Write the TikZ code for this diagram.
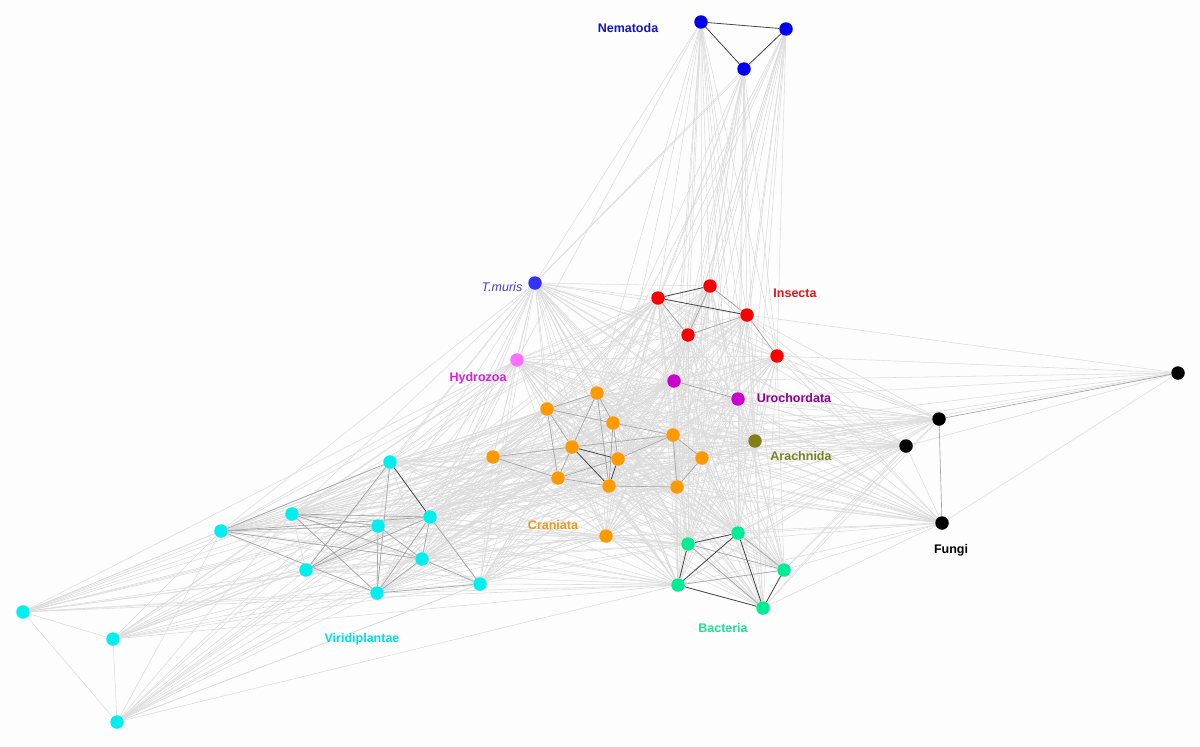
\documentclass[tikz,border=0pt]{standalone}
\usepackage{fontspec}
\setmainfont{Liberation Sans}
\usetikzlibrary{backgrounds}
\definecolor{bgc}{RGB}{252,253,252}
\definecolor{nemc}{RGB}{0,0,240}
\definecolor{nemt}{RGB}{20,20,200}
\definecolor{tmc}{RGB}{50,50,250}
\definecolor{tmt}{RGB}{60,60,230}
\definecolor{insc}{RGB}{250,0,0}
\definecolor{inst}{RGB}{230,20,20}
\definecolor{hyc}{RGB}{255,110,255}
\definecolor{hyt}{RGB}{220,30,220}
\definecolor{uroc}{RGB}{204,0,204}
\definecolor{urot}{RGB}{140,0,150}
\definecolor{arac}{RGB}{128,128,20}
\definecolor{arat}{RGB}{125,130,30}
\definecolor{cranc}{RGB}{255,153,0}
\definecolor{crant}{RGB}{240,150,30}
\definecolor{bacc}{RGB}{0,235,150}
\definecolor{bact}{RGB}{30,225,150}
\definecolor{virc}{RGB}{0,238,238}
\definecolor{virt}{RGB}{0,220,235}
\definecolor{lite}{RGB}{220,220,220}
\definecolor{mid}{RGB}{165,165,165}
\definecolor{dark}{RGB}{70,70,70}
\tikzset{
  vx/.style={circle,minimum size=13.5pt,inner sep=0pt,draw=none},
  lab/.style={inner sep=0pt,font=\bfseries\fontsize{12.5}{14}\selectfont},
  ltedge/.style={draw=lite,line width=0.55pt},
  mdedge/.style={draw=mid,line width=0.65pt},
  dkedge/.style={draw=dark,line width=0.8pt}
}
\begin{document}
\begin{tikzpicture}[x=1pt,y=-1pt]
\useasboundingbox (0,0) rectangle (1200,747);
% Nematoda
\node[vx,fill=nemc] (n1) at (701,22) {};
\node[vx,fill=nemc] (n2) at (786,29) {};
\node[vx,fill=nemc] (n3) at (744,69) {};
% T. muris
\node[vx,fill=tmc] (tm) at (535,283) {};
% Insecta
\node[vx,fill=insc] (i1) at (658,298) {};
\node[vx,fill=insc] (i2) at (710,286) {};
\node[vx,fill=insc] (i3) at (747,315) {};
\node[vx,fill=insc] (i4) at (688,335) {};
\node[vx,fill=insc] (i5) at (777,356) {};
% Hydrozoa
\node[vx,fill=hyc] (hy) at (517,360) {};
% Urochordata
\node[vx,fill=uroc] (u1) at (674,381) {};
\node[vx,fill=uroc] (u2) at (738,399) {};
% Arachnida
\node[vx,fill=arac] (ar) at (755,441) {};
% Craniata
\node[vx,fill=cranc] (c1) at (597,393) {};
\node[vx,fill=cranc] (c2) at (547,409) {};
\node[vx,fill=cranc] (c3) at (613,423) {};
\node[vx,fill=cranc] (c4) at (673,435) {};
\node[vx,fill=cranc] (c5) at (572,447) {};
\node[vx,fill=cranc] (c6) at (618,459) {};
\node[vx,fill=cranc] (c7) at (493,457) {};
\node[vx,fill=cranc] (c8) at (702,458) {};
\node[vx,fill=cranc] (c9) at (558,478) {};
\node[vx,fill=cranc] (c10) at (609,486) {};
\node[vx,fill=cranc] (c11) at (677,487) {};
\node[vx,fill=cranc] (c12) at (606,536) {};
% Bacteria
\node[vx,fill=bacc] (b1) at (688,544) {};
\node[vx,fill=bacc] (b2) at (738,533) {};
\node[vx,fill=bacc] (b3) at (784,570) {};
\node[vx,fill=bacc] (b4) at (678,585) {};
\node[vx,fill=bacc] (b5) at (763,608) {};
% Fungi
\node[vx,fill=black] (f1) at (1178,373) {};
\node[vx,fill=black] (f2) at (939,419) {};
\node[vx,fill=black] (f3) at (906,446) {};
\node[vx,fill=black] (f4) at (942,523) {};
% Viridiplantae
\node[vx,fill=virc] (v1) at (390,462) {};
\node[vx,fill=virc] (v2) at (292,514) {};
\node[vx,fill=virc] (v3) at (221,531) {};
\node[vx,fill=virc] (v4) at (430,517) {};
\node[vx,fill=virc] (v5) at (378,526) {};
\node[vx,fill=virc] (v6) at (422,559) {};
\node[vx,fill=virc] (v7) at (306,570) {};
\node[vx,fill=virc] (v8) at (480,584) {};
\node[vx,fill=virc] (v9) at (377,593) {};
\node[vx,fill=virc] (v10) at (23,612) {};
\node[vx,fill=virc] (v11) at (113,639) {};
\node[vx,fill=virc] (v12) at (117,722) {};
% Labels
\node[lab,text=nemt] (lnem) at (628,28) {Nematoda};
\node[inner sep=0pt,font=\itshape\fontsize{12.5}{14}\selectfont,text=tmt] (ltm) at (502,287) {T.muris};
\node[lab,text=inst] (lins) at (795,293) {Insecta};
\node[lab,text=hyt] (lhy) at (478,378) {Hydrozoa};
\node[lab,text=urot] (luro) at (794,398) {Urochordata};
\node[lab,text=arat] (lara) at (801,456) {Arachnida};
\node[lab,text=crant] (lcran) at (553,525) {Craniata};
\node[lab,text=virt] (lvir) at (362,639) {Viridiplantae};
\node[lab,text=bact] (lbac) at (723,628) {Bacteria};
\node[lab,text=black] (lfun) at (951,550) {Fungi};
\begin{pgfonlayer}{background}
\fill[bgc] (0,0) rectangle (1200,747);
% light edges: central block, all pairs
\foreach \a [count=\i] in {tm,i1,i2,i3,i4,i5,hy,u1,u2,ar,c1,c2,c3,c4,c5,c6,c7,c8,c9,c10,c11,c12,b1,b2,b3,b4,b5}{
  \foreach \b [count=\j] in {tm,i1,i2,i3,i4,i5,hy,u1,u2,ar,c1,c2,c3,c4,c5,c6,c7,c8,c9,c10,c11,c12,b1,b2,b3,b4,b5}{
    \ifnum\j>\i \draw[ltedge] (\a) -- (\b); \fi
  }
}
% light edges within Viridiplantae
\foreach \a [count=\i] in {v1,v2,v3,v4,v5,v6,v7,v8,v9,v10,v11,v12}{
  \foreach \b [count=\j] in {v1,v2,v3,v4,v5,v6,v7,v8,v9,v10,v11,v12}{
    \ifnum\j>\i \draw[ltedge] (\a) -- (\b); \fi
  }
}
% Viridiplantae to the centre
\foreach \a in {v1,v2,v3,v4,v5,v6,v7,v8,v9}{
  \foreach \b in {c1,c2,c3,c4,c5,c6,c7,c8,c9,c10,c11,c12,hy,tm,i1,u1,b1,b4}{
    \draw[ltedge] (\a) -- (\b);
  }
}
\foreach \a in {v10,v11,v12}{
  \foreach \b in {c7,c2,c9,c5,hy,b4,c12}{
    \draw[ltedge] (\a) -- (\b);
  }
}
% Nematoda fan
\foreach \a in {n1,n2,n3}{
  \foreach \b in {tm,i1,i2,i3,i4,i5,u1,u2,c1,c3,c4,c8,c11,ar,b2}{
    \draw[ltedge] (\a) -- (\b);
  }
}
\draw[ltedge] (n1) -- (hy);
% Fungi fan
\foreach \a in {f2,f3,f4}{
  \foreach \b in {tm,hy,i1,i3,i5,u1,u2,ar,c1,c2,c3,c4,c5,c6,c7,c8,c9,c10,c11,c12,b1,b2,b3,b4,b5}{
    \draw[ltedge] (\a) -- (\b);
  }
}
\foreach \b in {u1,u2,ar,i5,c4,c8,f3,f4,i3}{
  \draw[ltedge] (f1) -- (\b);
}
\draw[ltedge] (f3) -- (f4);
% medium edges
\foreach \a/\b in {i2/i3,i3/i4,i2/i4,i1/i4,i3/i5,u1/u2,
  c2/c3,c2/c5,c2/c9,c3/c4,c3/c6,c3/c10,c1/c5,c1/c10,c1/c3,c9/c5,c9/c10,c9/c6,
  c7/c9,c7/c5,c4/c8,c4/c11,c8/c11,c4/c6,c10/c11,c1/c2,c5/c4,
  b1/b3,b1/b5,b2/b3,b3/b4,
  v3/v1,v3/v4,v3/v5,v3/v6,v3/v9,v2/v4,v2/v5,v2/v9,v2/v6,v5/v9,v4/v9,v4/v7,
  v4/v8,v4/v6,v6/v9,v9/v8,v7/v5,v5/v6,v1/v9,v1/v7,v6/v8,
  f1/f2,f2/f4}{
  \draw[mdedge] (\a) -- (\b);
}
% dark edges
\foreach \a/\b in {n1/n2,n1/n3,n2/n3,i1/i2,i1/i3,c5/c6,c5/c10,c6/c10,v1/v4,
  b1/b2,b1/b4,b4/b5,b3/b5,b2/b4,b2/b5}{
  \draw[dkedge] (\a) -- (\b);
}
\end{pgfonlayer}
\end{tikzpicture}
\end{document}
